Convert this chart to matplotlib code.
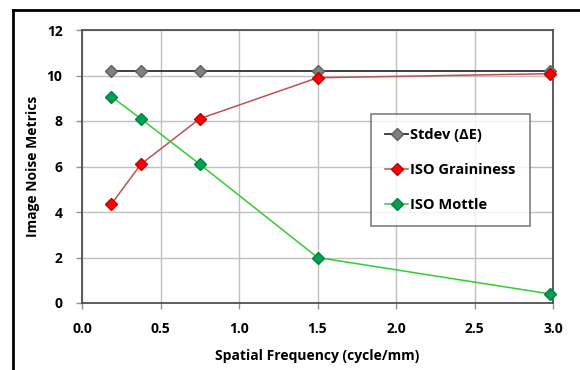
import matplotlib.pyplot as plt
from matplotlib.lines import Line2D

plt.rcParams['font.family'] = ['Open Sans', 'DejaVu Sans']

# values
freq = [0.1875, 0.375, 0.75, 1.5, 2.98]
stdev = [10.2, 10.2, 10.2, 10.2, 10.2]
graininess = [4.35, 6.1, 8.1, 9.9, 10.08]
mottle = [9.07, 8.1, 6.1, 2.0, 0.4]
series_names = ['Stdev (ΔE)', 'ISO Graininess', 'ISO Mottle']
x_ticks = [0.0, 0.5, 1.0, 1.5, 2.0, 2.5, 3.0]
y_ticks = [0, 2, 4, 6, 8, 10, 12]

fig = plt.figure(figsize=(5.8, 3.7), dpi=100)
ax = fig.add_axes([82 / 580, 1 - 303 / 370, (553 - 82) / 580, (303 - 30) / 370])

# outer chart-area frame (top and left edges visible in the crop)
fig.add_artist(Line2D([13 / 580, 13 / 580], [0, 1 - 10 / 370], transform=fig.transFigure,
                      color='black', lw=2))
fig.add_artist(Line2D([13 / 580, 1], [1 - 10 / 370, 1 - 10 / 370], transform=fig.transFigure,
                      color='black', lw=2))

ax.plot(freq, stdev, color='#303030', lw=1.3, marker='D', ms=6.5,
        mfc='#808080', mec='#606060', label=series_names[0], clip_on=False, zorder=3)
ax.plot(freq, graininess, color='#c0504d', lw=1.1, marker='D', ms=6.5,
        mfc='#ff0000', mec='#c00000', label=series_names[1], clip_on=False, zorder=4)
ax.plot(freq, mottle, color='#33cc33', lw=1.1, marker='D', ms=6.5,
        mfc='#00a050', mec='#008040', label=series_names[2], clip_on=False, zorder=4)

ax.set_xlim(0, 3)
ax.set_ylim(0, 12)
ax.set_xticks(x_ticks)
ax.set_xticklabels([f'{v:.1f}' for v in x_ticks])
ax.set_yticks(y_ticks)
ax.grid(True, color='#c0c0c0', lw=1)
ax.set_axisbelow(True)
for s in ax.spines.values():
    s.set_color('#505050')
    s.set_linewidth(1.3)
ax.tick_params(direction='out', length=4, color='#909090', width=1, pad=10)
for lbl in ax.get_xticklabels() + ax.get_yticklabels():
    lbl.set_fontweight('bold')
    lbl.set_fontsize(10)

ax.set_xlabel('Spatial Frequency (cycle/mm)', fontweight='bold', fontsize=10, labelpad=9)
ax.set_ylabel('Image Noise Metrics', fontweight='bold', fontsize=10, labelpad=5)

leg = ax.legend(loc='upper left', bbox_to_anchor=((371 - 82) / 471, (303 - 114) / 273),
                frameon=True, fancybox=False, fontsize=10.5, labelspacing=1.45,
                handlelength=1.6, handletextpad=0.15, borderpad=0.95, borderaxespad=0)
leg.get_frame().set_edgecolor('#606060')
leg.get_frame().set_linewidth(1.2)
for t in leg.get_texts():
    t.set_fontweight('bold')

fig.savefig('out.png', dpi=100)
